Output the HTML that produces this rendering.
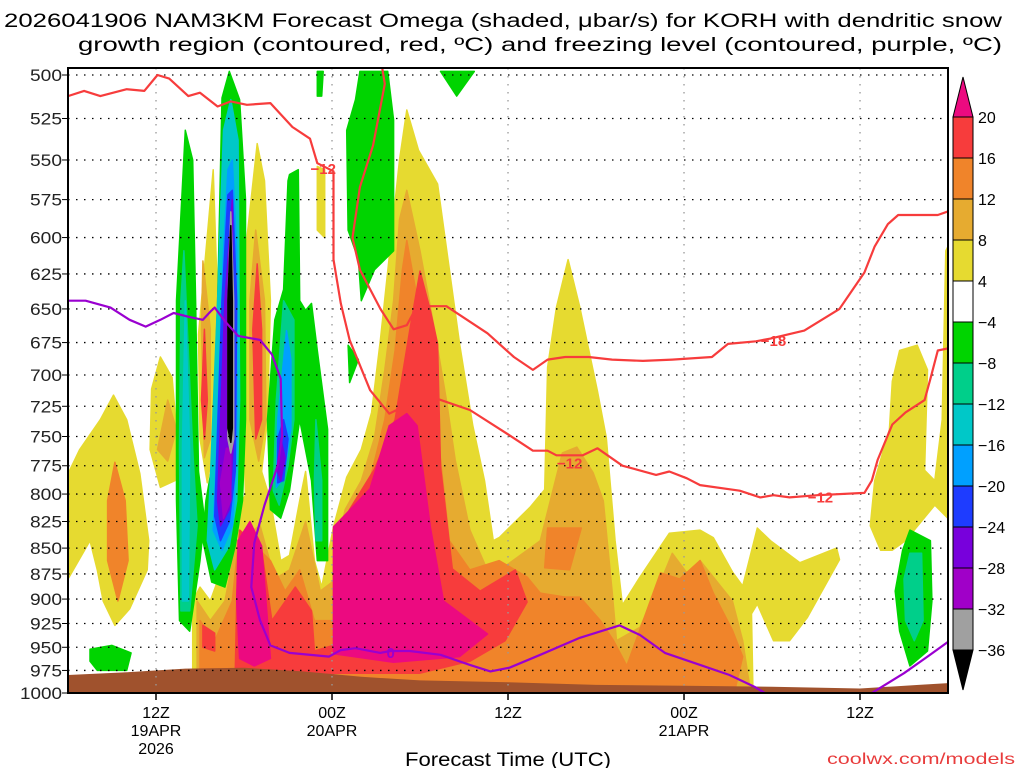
<!DOCTYPE html>
<html><head><meta charset="utf-8"><style>
html,body{margin:0;padding:0;background:#fff;}
svg{display:block;font-family:"Liberation Sans",sans-serif;}
</style></head><body>
<svg id="chart" width="1024" height="768" viewBox="0 0 1024 768" xmlns="http://www.w3.org/2000/svg">
<text x="4" y="27" font-size="19" textLength="998" lengthAdjust="spacingAndGlyphs" fill="#000">2026041906 NAM3KM Forecast Omega (shaded, μbar/s) for KORH with dendritic snow</text>
<text x="78" y="51" font-size="19" textLength="924" lengthAdjust="spacingAndGlyphs" fill="#000">growth region (contoured, red, ºC) and freezing level (contoured, purple, ºC)</text>
<defs><clipPath id="plotclip"><rect x="68" y="68" width="880" height="625"/></clipPath></defs>
<g id="shading" clip-path="url(#plotclip)"></g>
<g id="terrain" clip-path="url(#plotclip)"></g>
<g id="grid"></g>
<g id="contours" clip-path="url(#plotclip)"></g>
<rect x="68" y="68" width="880" height="625" fill="none" stroke="#000" stroke-width="2"/>
<g id="yaxis"></g>
<g id="xaxis"></g>
<text x="508" y="766" font-size="19" text-anchor="middle" textLength="206" lengthAdjust="spacingAndGlyphs">Forecast Time (UTC)</text>
<text x="1015" y="764" font-size="16" text-anchor="end" fill="#e83c3c" textLength="188" lengthAdjust="spacingAndGlyphs">coolwx.com/models</text>
<g id="colorbar"></g>
</svg>
<script>
// ---- axis data ----
const pressureTicks = [500,525,550,575,600,625,650,675,700,725,750,775,800,825,850,875,900,925,950,975,1000];
const timeTickHours = [6,18,30,42,54];
const timeTickLabels = [["12Z","19APR","2026"],["00Z","20APR"],["12Z"],["00Z","21APR"],["12Z"]];
const cbLabels = ["20","16","12","8","4","-4","-8","-12","-16","-20","-24","-28","-32","-36"];
const cbColors = ["#f73c3c","#f0842a","#e6ab30","#e6da30","#ffffff","#00d400","#00cf8a","#00c8c8","#00a0ff","#1e3cff","#7800dc","#a000c8","#a0a0a0"];

// ---- level colors ----
const C = {y:"#e6da30",g:"#e6ab30",o:"#f0842a",r:"#f73c3c",p:"#ec0a80",
  gr:"#00d400",te:"#00cf8a",cy:"#00c8c8",lb:"#00a0ff",db:"#1e3cff",pu:"#7800dc",mg:"#a000c8",gy:"#a0a0a0",bk:"#000000"};

// ---- shaded omega regions: [hour, hPa] ----
const yellowMain = [[18.1,995],[18.1,830],[19.0,785],[20.0,761],[20.7,730],[21.3,673],[22.1,595],[22.6,550],[23.1,520],[23.9,544],[25.2,565],[26.7,676],[27.6,741],[28.4,788],[29.0,843],[29.4,840],[31.5,812],[32.5,796],[32.7,694],[33.3,649],[34.1,615],[34.9,649],[36.1,713],[36.7,751],[37.3,843],[37.8,906],[39.0,878],[41.0,836],[43.1,833],[44.0,840],[45.3,873],[46.0,887],[47.0,831],[47.9,843],[49.9,864],[52.4,850],[52.6,861],[50.4,919],[49.2,943],[48.1,943],[47.0,905],[46.6,915],[46.7,995]];
const yellowLowLeft = [[8.5,995],[8.5,902],[9.0,888],[9.7,902],[10.7,862],[11.5,814],[12.1,801],[13.2,780],[13.8,806],[14.5,862],[15.1,857],[15.8,806],[16.2,780],[16.8,862],[17.3,888],[18.1,830],[18.1,995]];
const yellowCol = [[12.9,540],[13.4,563],[13.8,644],[13.6,736],[13.2,780],[12.1,801],[11.9,720],[12.1,609]];
const goldCol = [[12.8,595],[13.4,644],[13.5,736],[13.0,771],[12.4,736],[12.4,644]];
const redCol = [[12.9,618],[13.2,665],[13.2,736],[12.8,752],[12.6,665]];
const yellowCol2 = [[9.9,556],[10.2,644],[10.0,752],[9.5,790],[9.0,752],[8.9,669]];
const goldCol2 = [[9.2,616],[9.7,665],[9.7,752],[9.3,768],[9.1,665]];
const redCol2 = [[9.3,665],[9.5,720],[9.3,752],[9.1,720]];
const yellowLeft = [[0,782],[0.8,761],[2.2,736],[3.1,716],[4.0,736],[4.9,782],[5.5,843],[5.4,871],[4.2,910],[3.2,927],[2.4,902],[2.0,871],[1.5,843],[0,880]];
const goldLeft = [[3.2,772],[3.9,806],[4.1,862],[3.4,902],[2.7,862],[2.7,806]];
const yellowLeft2 = [[6.3,686],[7.1,702],[7.4,744],[7.3,788],[6.3,794],[5.6,761],[5.7,711]];
const goldLeft2 = [[6.8,720],[7.4,744],[6.8,771],[6.1,761]];
const yellowSmall = [[17.0,554],[17.5,556],[17.5,600],[17.0,595]];
const yellowRight = [[56.7,681],[57.9,677],[58.6,696],[58.4,779],[59.1,788],[59.6,736],[59.85,609],[60.2,602],[60.2,825],[59.1,810],[57.1,843],[56.2,852],[55.4,852],[54.7,829],[55.0,788],[56.0,744],[56.2,705]];
const goldMain = [[18.1,995],[18.1,862],[18.9,814],[20.0,788],[20.9,751],[21.6,696],[22.2,644],[22.6,588],[23.1,569],[24.0,609],[25.0,666],[25.8,720],[26.4,770],[27.4,833],[28.8,878],[32.2,843],[33.7,764],[34.7,759],[35.8,781],[36.5,806],[37.1,892],[37.4,943],[39.0,929],[40.4,883],[41.2,855],[42.2,874],[43.1,862],[45.3,902],[46.0,943],[46.5,995]];
const goldLowLeft = [[8.8,902],[9.7,922],[10.7,902],[11.5,843],[13.1,829],[14.1,880],[15.1,871],[16.2,825],[17.2,892],[18.1,882],[18.1,995],[8.8,995]];
const orangeMain = [[18.1,995],[18.1,902],[19.2,843],[20.4,797],[21.6,736],[22.3,681],[22.8,622],[23.1,602],[23.7,636],[24.7,704],[25.4,770],[26.0,843],[27.4,871],[29.4,862],[31.3,878],[32.2,894],[33.9,898],[34.9,898],[36.3,922],[37.2,943],[38.1,970],[39.7,902],[40.4,874],[41.7,880],[43.1,862],[44.0,894],[45.3,932],[46.0,960],[45.5,995]];
const orangeIsland = [[32.7,831],[35.0,831],[34.2,871],[32.5,869]];
const orangeLowLeft = [[9.0,922],[10.0,943],[11.2,902],[11.7,833],[13.8,862],[14.8,892],[15.8,871],[16.8,922],[18.1,922],[18.1,995],[9.0,995]];
const redMain = [[18.1,954],[18.1,843],[19.2,814],[20.9,778],[22.3,736],[23.3,666],[24.0,623],[24.7,651],[25.2,676],[25.4,776],[26.2,870],[28.1,892],[30.5,871],[31.3,903],[29.8,943],[27.4,965],[24.0,978],[18.1,978]];
const redLowLeft = [[11.5,902],[11.7,833],[13.2,852],[13.9,922],[15.5,888],[16.6,912],[16.8,954],[18.1,948],[18.1,980],[11.4,980]];
const redSmall = [[9.2,927],[10.0,935],[10.0,954],[9.2,950]];
const pinkLeft = [[11.6,843],[12.4,825],[13.2,848],[13.6,922],[13.8,962],[12.7,970],[11.7,962],[11.5,902]];
const pinkMain = [[18.1,830],[19.4,812],[20.6,795],[21.9,741],[23.1,731],[23.8,741],[24.7,830],[25.6,902],[28.6,936],[26.7,960],[22.2,966],[18.1,957]];
// cold (negative omega) regions
const greenLeftCol = [[8.0,532],[8.5,550],[8.7,644],[8.9,780],[9.3,822],[9.0,862],[8.3,933],[7.6,922],[7.4,806],[7.4,644]];
const tealLeftCol = [[7.9,609],[8.5,761],[8.8,829],[8.3,912],[7.7,912],[7.6,761],[7.7,644]];
const cyanLeftCol = [[8.0,644],[8.3,761],[8.2,902],[7.8,902],[7.8,761]];
const greenMainCol = [[11.0,498],[11.7,514],[12.1,575],[12.1,736],[11.9,806],[11.4,848],[10.7,888],[9.8,883],[9.2,843],[9.4,806],[9.8,777],[10.2,646],[10.5,513]];
const cyanMainCol = [[11.1,514],[11.6,538],[11.7,720],[11.5,806],[11.0,848],[10.0,871],[9.5,843],[9.7,788],[10.2,644],[10.6,532]];
const lblueMainCol = [[11.2,550],[11.5,609],[11.5,761],[11.2,829],[10.5,852],[9.9,833],[10.1,775],[10.6,609],[10.9,556]];
const dblueMainCol = [[11.2,569],[11.5,644],[11.4,780],[11.0,825],[10.4,843],[10.0,820],[10.5,644],[10.9,572]];
const purpleMainCol = [[11.2,575],[11.3,752],[11.0,814],[10.4,829],[10.2,806],[10.7,644]];
const magentaMainCol = [[11.1,760],[11.1,806],[10.6,822],[10.4,790],[10.8,760]];
const grayMainCol = [[11.1,583],[11.3,644],[11.3,752],[11.1,764],[10.9,752],[10.9,644]];
const blackMainCol = [[11.1,592],[11.2,644],[11.2,743],[11.1,755],[10.9,743],[10.9,644]];
const greenRightCol = [[15.1,559],[15.7,556],[15.8,644],[16.2,651],[16.6,646],[17.0,681],[17.7,744],[17.7,862],[17.0,862],[16.6,788],[15.8,736],[15.1,797],[14.5,822],[13.8,814],[13.6,736],[14.1,658],[14.7,636],[15.0,563]];
const tealRightCol = [[14.7,644],[15.4,658],[15.4,736],[15.0,775],[14.4,810],[14.0,797],[14.2,720]];
const cyanRightCol = [[14.9,666],[15.2,688],[15.2,744],[14.7,786],[14.2,794],[14.3,736]];
const blueRightCol = [[14.7,736],[15.0,752],[14.7,788],[14.3,790],[14.3,752]];
const purpleRightCol = [[14.5,752],[14.8,768],[14.5,788],[14.3,780]];
const tealRightCol2 = [[16.9,736],[17.3,788],[17.3,843],[16.9,843],[16.8,788]];
const greenUpper = [[19.9,498],[21.8,498],[22.2,526],[22.2,609],[20.9,622],[20.0,644],[19.8,615],[19.1,595],[19.0,532],[19.6,514]];
const greenUpperSmall = [[17.0,498],[17.4,498],[17.3,512],[17.0,512]];
const greenUpperSmall2 = [[25.4,498],[27.7,498],[26.5,512]];
const greenMid = [[19.1,677],[19.8,688],[19.2,706]];
const greenLowLeft = [[1.5,952],[3.0,948],[4.3,956],[4.0,975],[2.0,975],[1.5,965]];
const greenRight = [[57.4,833],[58.8,843],[58.9,902],[58.6,954],[57.4,970],[56.7,933],[56.4,892],[56.9,852]];
const tealRight = [[57.4,855],[58.2,855],[58.3,922],[57.7,943],[57.1,922],[57.0,880]];

// terrain: surface pressure by hour
const terrainHours = [0,4,8,12,16,20,24,30,36,42,48,54,58,60];
const terrainPsfc = [980,977,973,972,976,982,986,988,991,992,993,995,991,989];

// contour lines [hour,hPa]
const dgzLowerLine = [[0,512],[1.1,509],[2.2,512],[4.0,508],[5.2,509],[6.1,500],[6.9,502],[8.2,512],[9.0,510],[10.2,518],[11.1,515],[12.2,517],[13.8,516],[15.3,530],[16.5,537],[17.0,552],[18.1,557],[18.1,615],[18.6,646],[19.2,673],[20.6,712],[21.9,731],[23.3,723],[25.2,719],[27.4,728],[30.1,749],[31.7,762],[32.7,762],[33.3,766],[35.1,766],[36.1,760],[37.8,775],[40.1,783],[41.0,780],[42.2,786],[43.1,792],[45.8,797],[47.2,803],[48.1,801],[49.2,803],[51.1,801],[54.3,799],[54.8,788],[55.2,770],[56.2,740],[57.1,730],[58.4,720],[58.8,703],[59.3,681],[60.2,679]];
const dgzUpperLine = [[21.4,495],[21.6,505],[20.8,541],[19.9,567],[19.4,600],[19.9,622],[21.3,650],[22.2,665],[23.1,662],[23.8,648],[25.8,648],[28.6,668],[30.4,686],[31.7,696],[32.7,688],[33.9,686],[35.5,686],[37.1,688],[39.2,689],[41.2,688],[43.9,686],[45.0,676],[46.9,674],[47.9,672],[50.2,666],[52.6,650],[54.3,624],[55.0,606],[55.9,591],[56.6,585],[58.0,585],[59.3,585],[60.2,582]];
const freezingLine = [[0,644],[1.2,644],[2.9,649],[4.2,658],[5.3,663],[6.3,658],[7.2,653],[8.3,656],[9.2,658],[9.7,652],[10.0,649],[10.7,659],[11.6,670],[13.1,673],[13.9,684],[14.5,703],[14.6,750],[14.3,775],[13.4,810],[12.7,845],[12.5,888],[13.1,922],[13.8,948],[15.1,956],[17.8,960],[18.6,953],[19.6,951],[21.3,956],[22.0,954],[23.3,954],[25.4,958],[27.4,969],[28.8,976],[30.1,972],[32.2,958],[34.9,940],[37.6,927],[39.0,937],[40.7,956],[43.1,969],[45.1,980],[46.8,993],[47.5,1000]];
const freezingLine2 = [[54.8,1000],[57.0,978],[58.6,960],[60.2,942]];

const NS="http://www.w3.org/2000/svg";
const X0=68, PXH=14.667, Y0=75, PXLN=891.6;
function xs(h){return X0+h*PXH;}
function ys(p){return Y0+PXLN*Math.log(p/500);}
function mk(tag,attrs,parent){const e=document.createElementNS(NS,tag);for(const k in attrs)e.setAttribute(k,attrs[k]);parent.appendChild(e);return e;}
function pts(a){return a.map(d=>xs(d[0]).toFixed(1)+","+ys(d[1]).toFixed(1)).join(" ");}

const shading=document.getElementById("shading");
const layers=[
 [yellowMain,"y","shade-yellow-main"],[yellowLowLeft,"y","shade-yellow-lowleft"],[yellowCol,"y","shade-yellow-column"],[yellowCol2,"y","shade-yellow-column-2"],[yellowLeft,"y","shade-yellow-left"],[yellowLeft2,"y","shade-yellow-left-2"],[yellowSmall,"y","shade-yellow-small"],[yellowRight,"y","shade-yellow-right"],
 [goldMain,"g","shade-gold-main"],[goldLowLeft,"g","shade-gold-lowleft"],[goldCol,"g","shade-gold-column"],[goldCol2,"g","shade-gold-column-2"],[goldLeft,"o","shade-orange-left"],[goldLeft2,"g","shade-gold-left-2"],
 [orangeMain,"o","shade-orange-main"],[orangeIsland,"o","shade-orange-island"],[orangeLowLeft,"o","shade-orange-lowleft"],
 [redMain,"r","shade-red-main"],[redLowLeft,"r","shade-red-lowleft"],[redSmall,"r","shade-red-small"],[redCol,"r","shade-red-column"],[redCol2,"r","shade-red-column-2"],
 [pinkLeft,"p","shade-pink-left"],[pinkMain,"p","shade-pink-main"],
 [greenLeftCol,"gr","shade-green-left-column"],[tealLeftCol,"te","shade-teal-left-column"],[cyanLeftCol,"cy","shade-cyan-left-column"],
 [greenMainCol,"gr","shade-green-main-column"],[cyanMainCol,"cy","shade-cyan-main-column"],[lblueMainCol,"lb","shade-lightblue-main-column"],[dblueMainCol,"db","shade-darkblue-main-column"],[purpleMainCol,"pu","shade-purple-main-column"],[magentaMainCol,"mg","shade-magenta-main-column"],[grayMainCol,"gy","shade-gray-main-column"],[blackMainCol,"bk","shade-black-main-column"],
 [greenRightCol,"gr","shade-green-right-column"],[tealRightCol,"te","shade-teal-right-column"],[cyanRightCol,"lb","shade-blue-right-column"],[blueRightCol,"db","shade-darkblue-right-column"],[purpleRightCol,"pu","shade-purple-right-column"],[tealRightCol2,"te","shade-teal-right-column-2"],
 [greenUpper,"gr","shade-green-upper"],[greenUpperSmall,"gr","shade-green-upper-small"],[greenUpperSmall2,"gr","shade-green-upper-small-2"],[greenMid,"gr","shade-green-mid"],[greenLowLeft,"gr","shade-green-lowleft"],[greenRight,"gr","shade-green-right"],[tealRight,"te","shade-teal-right"]
];
layers.forEach(L=>{
 const e=mk("polygon",{points:pts(L[0]),fill:C[L[1]],stroke:C[L[1]],"stroke-width":"1.5","stroke-linejoin":"round"},shading);
 
 
});

// terrain
const terr=document.getElementById("terrain");
const tp=terrainHours.map((h,i)=>[h,terrainPsfc[i]]);
const tpoly=tp.concat([[60,1010],[0,1010]]);
const te=mk("polygon",{points:pts(tpoly),fill:"#a0522d"},terr);



// grid
const grid=document.getElementById("grid");
pressureTicks.forEach(p=>{
 if(p===1000) return;
 const g=mk("line",{x1:68,x2:948,y1:ys(p),y2:ys(p),stroke:"#000","stroke-width":"1.3","stroke-dasharray":"1.5 6.5"},grid);
 
 
});
timeTickHours.forEach(h=>{
 const g=mk("line",{x1:xs(h),x2:xs(h),y1:68,y2:693,stroke:"#999","stroke-width":"1.3","stroke-dasharray":"1.5 6.5"},grid);
 
 
});

// contours
const cont=document.getElementById("contours");
function line(a,color,name){
 const e=mk("polyline",{points:pts(a),fill:"none",stroke:color,"stroke-width":"2.2","stroke-linejoin":"round"},cont);
 
 
}
line(dgzLowerLine,"#f73c3c","dgz-minus12-contour");
line(dgzUpperLine,"#f73c3c","dgz-minus18-contour");
line(freezingLine,"#9a00d0","freezing-level-contour");
line(freezingLine2,"#9a00d0","freezing-level-contour-2");
const lbls=[[17.4,555,"−12","#f73c3c"],[34.2,772,"−12","#f73c3c"],[51.3,802,"−12","#f73c3c"],[48.1,673,"−18","#f73c3c"],[22.0,955,"0","#9a00d0"]];
lbls.forEach(l=>{
 const x=xs(l[0]),y=ys(l[1]);
 const t=mk("text",{x:x,y:y+6,"font-size":"15","font-weight":"bold","text-anchor":"middle",fill:l[3]},cont);
 t.textContent=l[2];
 
 
});

// y axis
const ya=document.getElementById("yaxis");
pressureTicks.forEach(p=>{
 const t=mk("text",{x:62,y:ys(p)+6,"font-size":"17","text-anchor":"end",fill:"#222",textLength:String(p).length===4?"42":"32",lengthAdjust:"spacingAndGlyphs"},ya);
 t.textContent=p;
 
 
 mk("line",{x1:62,x2:68,y1:ys(p),y2:ys(p),stroke:"#000","stroke-width":"1"},ya);
});

// x axis
const xa=document.getElementById("xaxis");
timeTickHours.forEach((h,i)=>{
 mk("line",{x1:xs(h),x2:xs(h),y1:693,y2:700,stroke:"#000","stroke-width":"1.5"},xa);
 timeTickLabels[i].forEach((s,j)=>{
  const t=mk("text",{x:xs(h),y:718+j*18,"font-size":"16","text-anchor":"middle",fill:"#000"},xa);
  t.textContent=s;
  
  
 });
});

// colorbar
const cb=document.getElementById("colorbar");
const cbx=953,cbw=20,cbTop=117,cbH=41;
mk("polygon",{points:`${cbx},${cbTop} ${cbx+cbw},${cbTop} ${cbx+cbw/2},77`,fill:"#ec0a80",stroke:"#000","stroke-width":"1"},cb);
cbColors.forEach((c,i)=>{
 const r=mk("rect",{x:cbx,y:cbTop+i*cbH,width:cbw,height:cbH,fill:c,stroke:"#000","stroke-width":"1"},cb);
 
 
});
const cbBot=cbTop+cbColors.length*cbH;
mk("polygon",{points:`${cbx},${cbBot} ${cbx+cbw},${cbBot} ${cbx+cbw/2},690`,fill:"#000",stroke:"#000","stroke-width":"1"},cb);
cbLabels.forEach((s,i)=>{
 const t=mk("text",{x:978,y:cbTop+i*cbH+6,"font-size":"16",fill:"#000"},cb);
 t.textContent=s.replace("-","−");
 
 
});
</script>
</body></html>
